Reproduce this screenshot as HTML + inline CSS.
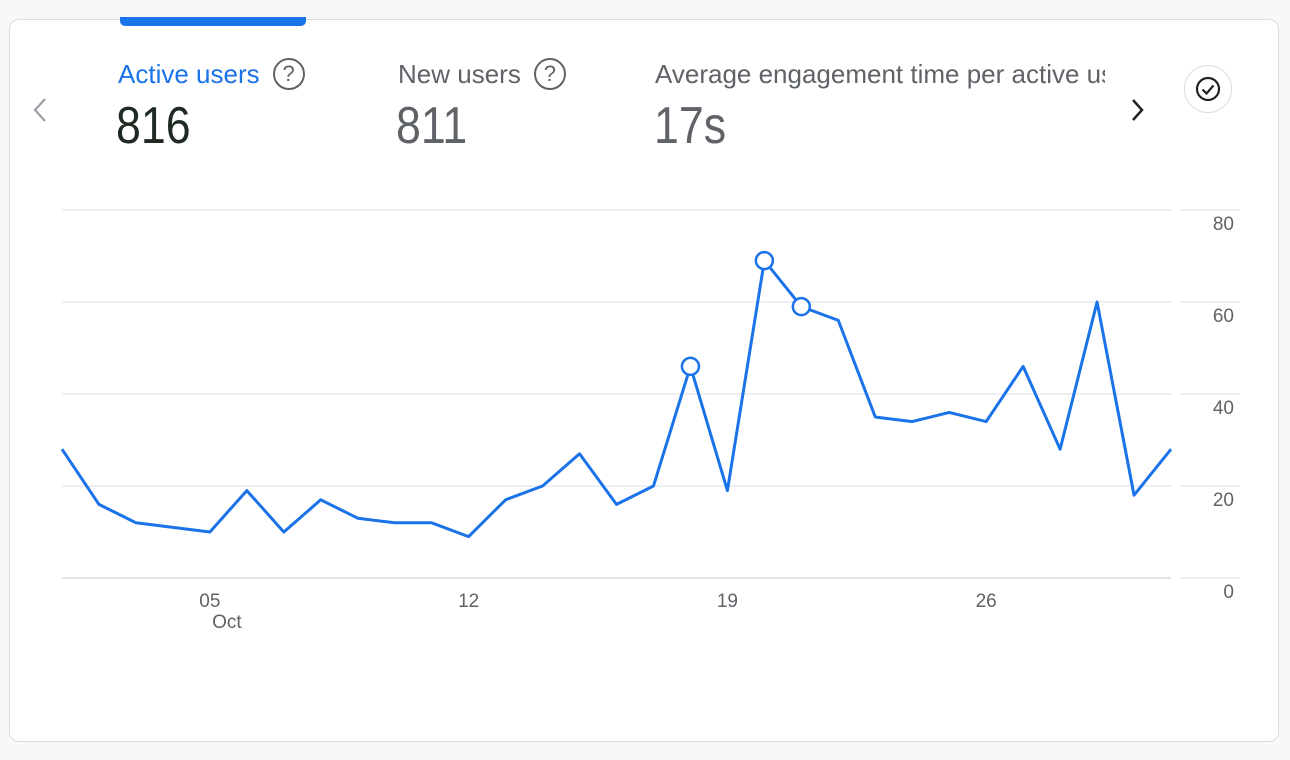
<!DOCTYPE html>
<html><head><meta charset="utf-8">
<style>
body{margin:0;width:1290px;height:760px;background:#f7f8fa;font-family:"Liberation Sans",sans-serif;overflow:hidden;position:relative}
.card{position:absolute;left:9px;top:19px;width:1268px;height:721px;background:#fff;border:1px solid #dadce0;border-radius:10px}
.tab{position:absolute;left:120px;top:17px;width:186px;height:9px;background:#1a73e8;border-radius:0 0 5px 5px}
.lbl{position:absolute;top:58px;font-size:26px;color:#5f6368;white-space:nowrap;line-height:32px}
.val{position:absolute;top:96px;font-size:52px;color:#5f6368;transform:scaleX(0.86);transform-origin:0 0}
.q{display:inline-block;width:32px;height:32px;border:2.5px solid #5f6368;border-radius:50%;box-sizing:border-box;text-align:center;font-size:22px;line-height:27px;color:#5f6368;vertical-align:top;margin-left:13px}
</style></head><body>
<div class="card"></div>
<div class="tab"></div>
<div class="lbl" style="left:118px;color:#1a73e8">Active users<span class="q">?</span></div>
<div class="val" style="left:116px;color:#1e2a22">816</div>
<div class="lbl" style="left:398px">New users<span class="q">?</span></div>
<div class="val" style="left:396px">811</div>
<div class="lbl" style="left:655px;width:450px;overflow:hidden">Average engagement time per active user</div>
<div class="val" style="left:654px">17s</div>
<svg style="position:absolute;left:30px;top:96px" width="20" height="28"><path d="M15 3L5 14l10 11" fill="none" stroke="#9aa0a6" stroke-width="2.2"/></svg>
<svg style="position:absolute;left:1128px;top:96px" width="20" height="28"><path d="M5 4l9 10-9 10" fill="none" stroke="#202124" stroke-width="2.5"/></svg>
<div style="position:absolute;left:1184px;top:65px;width:48px;height:48px;border:1px solid #dadce0;border-radius:50%;box-sizing:border-box">
<svg width="46" height="46" viewBox="0 0 46 46"><circle cx="23" cy="23" r="11" fill="none" stroke="#202124" stroke-width="2.2"/><path d="M17.5 23.5l4 4 7-8" fill="none" stroke="#202124" stroke-width="2.2"/></svg></div>
<svg id="chart" width="1290" height="760" style="position:absolute;left:0;top:0"></svg>
<script>
const days=[1,2,3,4,5,6,7,8,9,10,11,12,13,14,15,16,17,18,19,20,21,22,23,24,25,26,27,28,29,30,31];
const activeUsers=[28,16,12,11,10,19,10,17,13,12,12,9,17,20,27,16,20,46,19,69,59,56,35,34,36,34,46,28,60,18,28];
const markedDays=[18,20,21];
const yTicks=[0,20,40,60,80];
const xTickDays=[5,12,19,26];
const xTickLabels=["05","12","19","26"];
const NS="http://www.w3.org/2000/svg";
const svg=document.getElementById('chart');
const x=d=>62+(d-1)*(1171-62)/30;
const y=v=>578-v*(578-210)/80;
function mk(t,a){const e=document.createElementNS(NS,t);for(const k in a)e.setAttribute(k,a[k]);svg.appendChild(e);return e;}
yTicks.forEach(v=>{
 const g=mk('line',{x1:62,x2:1171,y1:y(v),y2:y(v),stroke:v===0?'#dadce0':'#e8eaed','stroke-width':1.5});
 
 
 const g2=mk('line',{x1:1180,x2:1240,y1:y(v),y2:y(v),stroke:'#e8eaed','stroke-width':1.5});
 
 
 const t=mk('text',{x:1234,y:y(v)+20,'text-anchor':'end','font-size':19,fill:'#5f6368','font-family':'Liberation Sans'});
 t.textContent=v;
 
 
});
xTickDays.forEach((d,i)=>{
 const t=mk('text',{x:x(d),y:607,'text-anchor':'middle','font-size':19,fill:'#5f6368','font-family':'Liberation Sans'});
 t.textContent=xTickLabels[i];
 
 
});
const m=mk('text',{x:x(5)+17,y:628,'text-anchor':'middle','font-size':19,fill:'#5f6368','font-family':'Liberation Sans'});
m.textContent='Oct';


const p=mk('polyline',{points:days.map((d,i)=>x(d)+','+y(activeUsers[i])).join(' '),fill:'none',stroke:'#1a73e8','stroke-width':3,'stroke-linejoin':'round'});


markedDays.forEach(d=>{
 const i=days.indexOf(d);
 const c=mk('circle',{cx:x(d),cy:y(activeUsers[i]),r:8.5,fill:'#fff',stroke:'#1a73e8','stroke-width':2.5});
 
 
});
</script>
</body></html>
